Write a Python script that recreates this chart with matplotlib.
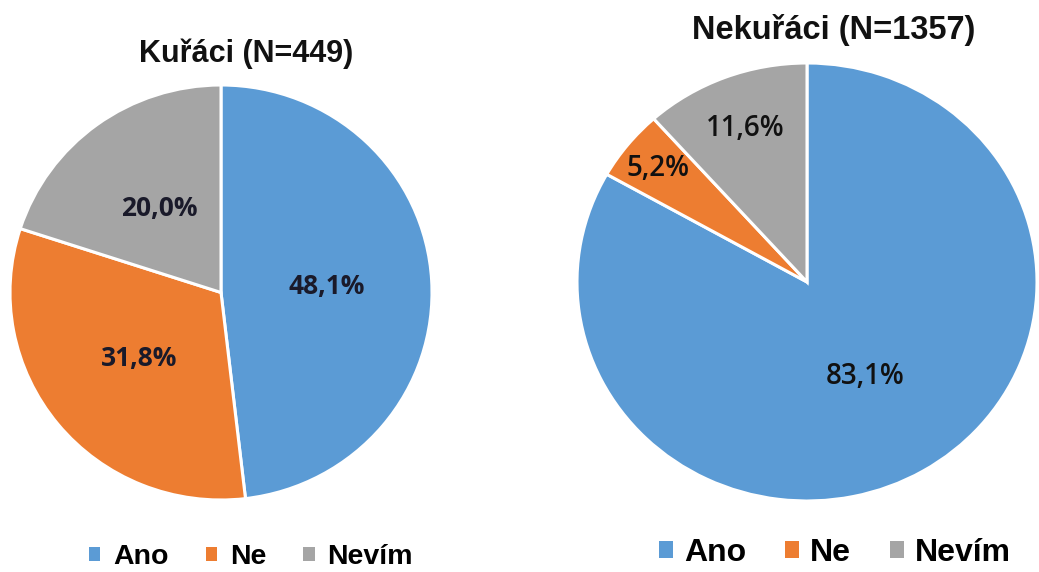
import numpy as np
import matplotlib
matplotlib.use("Agg")
import matplotlib.pyplot as plt
from matplotlib.patches import Patch

categories = ["Ano", "Ne", "Nevím"]
smokers_values = [48.1, 31.8, 20.0]
nonsmokers_values = [83.1, 5.2, 11.6]
smokers_labels = ["48,1%", "31,8%", "20,0%"]
nonsmokers_labels = ["83,1%", "5,2%", "11,6%"]
smokers_title = "Kuřáci (N=449)"
nonsmokers_title = "Nekuřáci (N=1357)"

colors = ["#5B9BD5", "#ED7D31", "#A5A5A5"]
W, H = 1039, 572
fig = plt.figure(figsize=(W / 100, H / 100), dpi=100)


def px_axes(cx, cy, rx, ry):
    ax = fig.add_axes([(cx - rx) / W, (H - cy - ry) / H, 2 * rx / W, 2 * ry / H])
    ax.axis("off")
    return ax


def draw_pie(ax, values, labels, dists, fontsize, weight, color):
    wedges, _ = ax.pie(values, colors=colors, startangle=90, counterclock=False,
                       radius=1, wedgeprops=dict(edgecolor="white", linewidth=2.2),
                       normalize=True)
    for w, lab, d in zip(wedges, labels, dists):
        ang = np.deg2rad((w.theta1 + w.theta2) / 2)
        ax.text(d * np.cos(ang), d * np.sin(ang), lab, ha="center", va="center",
                fontsize=fontsize, family="Open Sans", fontweight=weight, color=color)
    ax.set_aspect("auto")
    ax.set_xlim(-1, 1)
    ax.set_ylim(-1, 1)
    return wedges


ax1 = px_axes(221, 292.5, 211, 207.5)
w1 = draw_pie(ax1, smokers_values, smokers_labels, [0.5, 0.5, 0.5], 19, "bold", "#1a1a2a")
ax2 = px_axes(807, 282, 230, 219)
w2 = draw_pie(ax2, nonsmokers_values, nonsmokers_labels, [0.5, 0.83, 0.75], 20, "semibold", "#111111")

fig.text(246 / W, 1 - 54 / H, smokers_title, ha="center", va="center",
         fontsize=22, fontweight="bold", family="Liberation Sans", color="#111111")
fig.text(834 / W, 1 - 30 / H, nonsmokers_title, ha="center", va="center",
         fontsize=23.5, fontweight="bold", family="Liberation Sans", color="#111111")

handles = [Patch(facecolor=c, edgecolor="none") for c in colors]
fig.legend(handles, categories, loc="center", bbox_to_anchor=(251 / W, 1 - 557 / H),
           ncol=3, frameon=False, handlelength=0.4, handleheight=0.4,
           handletextpad=0.45, columnspacing=1.3,
           prop=dict(family="Liberation Sans", weight="bold", size=20.5))
fig.legend(handles, categories, loc="center", bbox_to_anchor=(835 / W, 1 - 553 / H),
           ncol=3, frameon=False, handlelength=0.45, handleheight=0.45,
           handletextpad=0.35, columnspacing=1.2,
           prop=dict(family="Liberation Sans", weight="bold", size=23))

fig.savefig("out.png", dpi=100, facecolor="white")
